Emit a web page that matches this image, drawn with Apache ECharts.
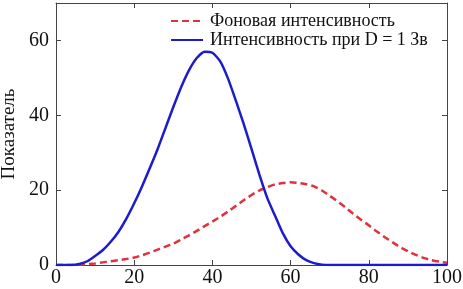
<!DOCTYPE html>
<html><head><meta charset="utf-8">
<script src="https://cdn.jsdelivr.net/npm/echarts@6/dist/echarts.min.js"></script>
<style>html,body{margin:0;padding:0;background:#fff}#c{width:463px;height:289px}</style>
</head><body><div id="c"></div>
<script>
const xValues = [0,2,4,6,8,10,12,14,16,18,20,22,24,26,28,30,32,34,36,38,40,42,44,46,48,50,52,54,56,58,60,62,64,66,68,70,72,74,76,78,80,82,84,86,88,90,92,94,96,98,100];
const backgroundValues = [0,0,0,0.1,0.2,0.4,0.7,1.0,1.3,1.6,2.0,2.6,3.3,4.1,4.9,5.7,6.8,7.9,9.1,10.4,11.6,12.9,14.3,15.8,17.3,18.7,19.9,20.8,21.5,21.9,22.1,21.9,21.6,21.0,19.9,18.5,17.0,15.4,13.7,12.1,10.6,9.0,7.5,6.1,4.8,3.7,2.7,1.9,1.3,0.9,0.6];
const doseValues = [0,0,0,0.3,1.0,2.4,4.0,6.2,8.9,12.4,16.5,21.0,25.9,31.0,36.6,42.2,47.5,52.0,55.3,57.0,56.7,54.4,49.8,43.9,37.7,31.0,24.2,18.0,13.2,8.5,5.0,2.8,1.3,0.5,0.1,0,0,0,0,0,0,0,0,0,0,0,0,0,0,0,0];
const xTicks = [0,20,40,60,80,100];
const yTicks = [0,20,40,60];
const seriesNames = ['Фоновая интенсивность','Интенсивность при D = 1 Зв'];
const yAxisName = 'Показатель';

const font = 'Liberation Serif';
const axisCol = '#444';
function pairs(vals){ return xValues.map((x,i)=>[x, vals[i]]); }
const chart = echarts.init(document.getElementById('c'), null, {renderer:'canvas'});
const common = {
  axisLine:{show:true, onZero:false, lineStyle:{color:axisCol, width:1}},
  axisTick:{show:true, inside:true, length:5, lineStyle:{color:axisCol}},
  splitLine:{show:false}
};
chart.setOption({
  animation:false,
  backgroundColor:'#fff',
  grid:{left:56, right:16, top:3, bottom:24, containLabel:false, outerBoundsMode:'none'},
  legend:{
    orient:'vertical', left:170, top:12, padding:0, itemWidth:32, itemHeight:10, itemGap:1,
    itemStyle:{opacity:0},
    textStyle:{fontFamily:font, fontSize:18, color:'#111', padding:[0,0,0,2]},
    data:seriesNames
  },
  xAxis:[
    Object.assign({type:'value', min:0, max:100, interval:20, position:'bottom',
      axisLabel:{fontFamily:font, fontSize:20, color:'#111', margin:3,
        formatter:v=>xTicks.includes(v)?String(v):''}}, common),
    Object.assign({type:'value', min:0, max:100, interval:20, position:'top',
      axisLabel:{show:false}}, common)
  ],
  yAxis:[
    Object.assign({type:'value', min:0, max:70, interval:20, position:'left',
      name:yAxisName, nameLocation:'middle', nameGap:37,
      nameTextStyle:{fontFamily:font, fontSize:19, color:'#111'},
      axisLabel:{fontFamily:font, fontSize:20, color:'#111', margin:7,
        formatter:v=>yTicks.includes(v)?String(v):''}}, common),
    Object.assign({type:'value', min:0, max:70, interval:20, position:'right',
      axisLabel:{show:false}}, common)
  ],
  series:[
    {name:seriesNames[0], type:'line', data:pairs(backgroundValues), showSymbol:false, symbol:'none', smooth:0.2,
      lineStyle:{color:'#e0323c', width:2.5, type:[7,4]}, itemStyle:{color:'#e0323c'}},
    {name:seriesNames[1], type:'line', data:pairs(doseValues), showSymbol:false, symbol:'none', smooth:0.2,
      lineStyle:{color:'#1c1ccc', width:2.5}, itemStyle:{color:'#1c1ccc'}}
  ]
});
</script></body></html>
